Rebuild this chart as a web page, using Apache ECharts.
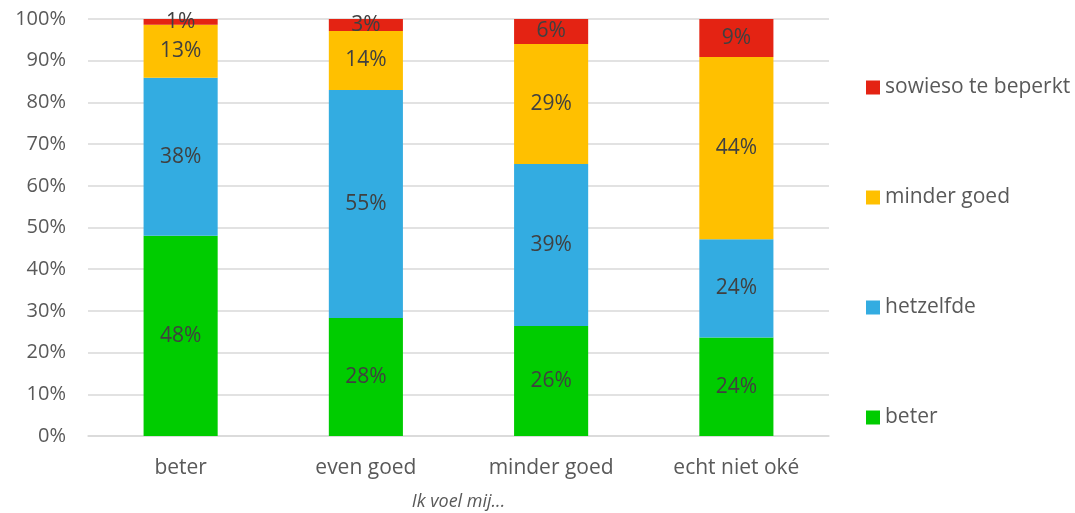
<!DOCTYPE html>
<html>
<head>
<meta charset="utf-8">
<script src="https://cdn.jsdelivr.net/npm/echarts@6/dist/echarts.min.js"></script>
<style>
  html, body { margin: 0; padding: 0; background: #fff; }
  #chart { width: 1075px; height: 513px; }
</style>
</head>
<body>
<div id="chart"></div>
<script>
// categories on the x axis
const categories = ["beter", "even goed", "minder goed", "echt niet oké"];
// shares per answer, bottom to top (percent)
const beter = [48.0, 28.3, 26.4, 23.6];
const hetzelfde = [37.9, 54.7, 38.8, 23.6];
const minderGoed = [12.7, 14.1, 28.8, 43.7];
const sowieso = [1.4, 2.9, 6.0, 9.1];
const yTicks = [0, 10, 20, 30, 40, 50, 60, 70, 80, 90, 100];

const colors = {
  beter: "#00cc00",
  hetzelfde: "#33ace1",
  minder: "#ffc000",
  sowieso: "#e42313"
};

const font = "'Open Sans', sans-serif";

function bar(name, data, color) {
  return {
    name: name,
    type: "bar",
    stack: "total",
    data: data,
    barWidth: "40%",
    itemStyle: { color: color },
    label: {
      show: true,
      position: "inside",
      color: "#404040",
      fontFamily: font,
      fontSize: 21,
      formatter: p => Math.round(p.value) + "%"
    }
  };
}

let chart = echarts.init(document.getElementById("chart"), null, { renderer: "canvas" });
chart.setOption({
  animation: false,
  grid: { left: 88, right: 246, top: 19, bottom: 77, outerBoundsMode: "none" },
  legend: {
    orient: "vertical",
    left: 861,
    top: 72,
    itemWidth: 14,
    itemHeight: 14,
    itemGap: 89,
    icon: "rect",
    data: ["sowieso te beperkt", "minder goed", "hetzelfde", "beter"],
    textStyle: { color: "#595959", fontFamily: font, fontSize: 21 }
  },
  xAxis: {
    type: "category",
    data: categories,
    name: "Ik voel mij...",
    nameLocation: "middle",
    nameGap: 57,
    nameTextStyle: { color: "#595959", fontFamily: font, fontSize: 18, fontStyle: "italic" },
    axisLine: { lineStyle: { color: "#d9d9d9", width: 1.5 } },
    axisTick: { show: false },
    axisLabel: { color: "#595959", fontFamily: font, fontSize: 21, margin: 22 }
  },
  yAxis: {
    type: "value",
    min: yTicks[0],
    max: yTicks[yTicks.length - 1],
    interval: 10,
    axisLine: { show: false },
    axisTick: { show: false },
    splitLine: { lineStyle: { color: "#d9d9d9", width: 1.5 } },
    axisLabel: { color: "#595959", fontFamily: font, fontSize: 20, margin: 22, formatter: "{value}%" }
  },
  series: [
    bar("beter", beter, colors.beter),
    bar("hetzelfde", hetzelfde, colors.hetzelfde),
    bar("minder goed", minderGoed, colors.minder),
    bar("sowieso te beperkt", sowieso, colors.sowieso)
  ]
});
</script>
</body>
</html>
